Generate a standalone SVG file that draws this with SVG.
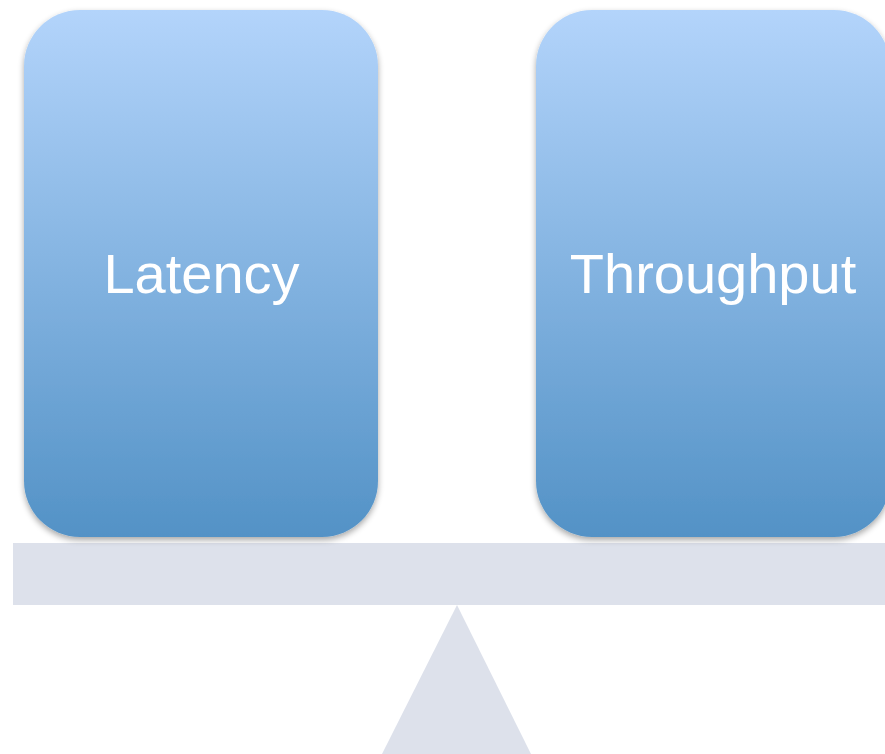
<svg xmlns="http://www.w3.org/2000/svg" width="885" height="754" viewBox="0 0 885 754">
<defs>
<linearGradient id="g" x1="0" y1="0" x2="0" y2="1">
<stop offset="0" stop-color="#b3d4fb"/>
<stop offset="1" stop-color="#5392c6"/>
</linearGradient>
<filter id="sh" x="-10%" y="-10%" width="120%" height="120%">
<feGaussianBlur in="SourceAlpha" stdDeviation="3"/>
<feOffset dx="0" dy="3"/>
<feComponentTransfer><feFuncA type="linear" slope="0.35"/></feComponentTransfer>
<feMerge><feMergeNode/><feMergeNode in="SourceGraphic"/></feMerge>
</filter>
</defs>
<style>
.box{fill:url(#g);filter:url(#sh)}
.lbl{font-family:"Liberation Sans",Arial,sans-serif;font-size:56px;fill:#ffffff;text-anchor:middle}
.base{fill:#dde1eb}
</style>
<rect width="885" height="754" fill="#ffffff"/>
<g id="beam"><rect class="base" x="13" y="543" width="880" height="62"/></g>
<g id="fulcrum"><polygon class="base" points="457,605 531,754 382,754"/></g>
<g id="latency">
<rect class="box" x="24" y="10" width="354" height="527" rx="56" ry="56"/>
<text class="lbl" x="201.5" y="293">Latency</text>
</g>
<g id="throughput">
<rect class="box" x="536" y="10" width="354" height="527" rx="56" ry="56"/>
<text class="lbl" x="713" y="293">Throughput</text>
</g>
<g id="connectors"/>
</svg>
